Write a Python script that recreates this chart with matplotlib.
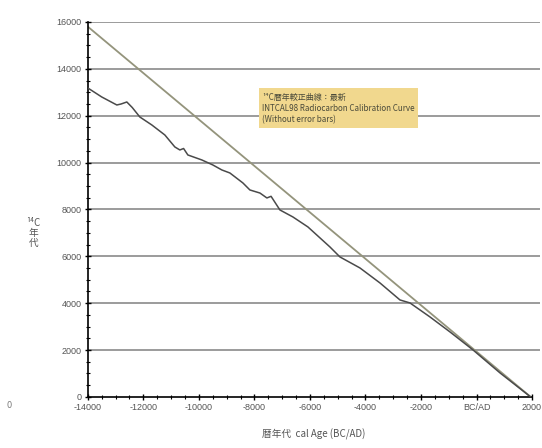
import matplotlib.pyplot as plt
from matplotlib.patches import Rectangle
from matplotlib.ticker import MultipleLocator

# INTCAL98 (without error bars): calendar age vs. radiocarbon age
cal_age = [-14000, -13500, -12955, -12800, -12595, -12400, -12126, -11694,
           -11225, -10865, -10685, -10550, -10396, -9892, -9500, -9171,
           -8883, -8414, -8162, -7800, -7550, -7400, -7081, -6613, -6072,
           -5279, -4919, -4198, -3477, -2757, -2396, -1676, -955, -126,
           847, 1950]
c14_age = [13183, 12800, 12457, 12500, 12585, 12350, 11945, 11604,
           11177, 10666, 10538, 10600, 10324, 10111, 9900, 9684,
           9556, 9130, 8831, 8700, 8490, 8560, 7978, 7679, 7253,
           6399, 5973, 5503, 4863, 4138, 4010, 3413, 2773, 2005,
           1024, 0]

# uncalibrated reference line
ref_x = [-14000, 1950]
ref_y = [15800, 0]

x_ticks = [-14000, -12000, -10000, -8000, -6000, -4000, -2000, 0, 2000]
x_labels = ['-14000', '-12000', '-10000', '-8000', '-6000', '-4000',
            '-2000', 'BC/AD', '2000']
y_ticks = [0, 2000, 4000, 6000, 8000, 10000, 12000, 14000, 16000]

legend_lines = ['¹⁴C暦年較正曲線：最新',
                'INTCAL98 Radiocarbon Calibration Curve',
                '(Without error bars)']

cjk = ['Noto Sans CJK JP', 'DejaVu Sans']
txt_color = '#555555'

fig = plt.figure(figsize=(5.42, 4.48), dpi=100)
ax = fig.add_axes([0.162, 0.114, 0.835, 0.837])

for y in y_ticks[1:]:
    ax.axhline(y, color='#8a8a8a', lw=1.2, zorder=1)

ax.plot(ref_x, ref_y, color='#94947c', lw=1.3, zorder=2)
ax.plot(cal_age, c14_age, color='#4a4a4a', lw=1.1, zorder=3)

ax.set_xlim(-14000, 2300)
ax.set_ylim(0, 16000)
ax.set_xticks(x_ticks)
ax.set_xticklabels(x_labels)
ax.set_yticks(y_ticks)
ax.xaxis.set_minor_locator(MultipleLocator(500))
ax.yaxis.set_minor_locator(MultipleLocator(500))
ax.tick_params(which='major', direction='inout', length=5, width=1,
               labelsize=6.5, labelcolor=txt_color, pad=2)
ax.tick_params(which='minor', direction='inout', length=3, width=0.8)
for lab in ax.get_xticklabels() + ax.get_yticklabels():
    lab.set_family('Liberation Sans')

for side in ['top', 'right']:
    ax.spines[side].set_visible(False)
ax.spines['bottom'].set_bounds(-14000, 2000)
ax.spines['left'].set_linewidth(1.2)
ax.spines['bottom'].set_linewidth(1.2)

# legend box
ax.add_patch(Rectangle((0.378, 0.717), 0.352, 0.107, transform=ax.transAxes,
                       facecolor='#f1d88e', edgecolor='none', zorder=4))
for i, line in enumerate(legend_lines):
    ax.text(0.386, 0.80 - i * 0.03, line, transform=ax.transAxes,
            fontsize=5.8, color='#4a4a3a', va='center', family=cjk, zorder=5)

ax.set_xlabel('暦年代  cal Age (BC/AD)', fontsize=7, color=txt_color,
              family=cjk, labelpad=12)
fig.text(0.062, 0.48, '¹⁴C\n年\n代', fontsize=7, color=txt_color,
         family=cjk, ha='center', va='center', linespacing=1.0)
fig.text(0.016, 0.094, '0', fontsize=6, color='#777777', ha='center',
         va='center')

fig.savefig('out.png', dpi=100)
